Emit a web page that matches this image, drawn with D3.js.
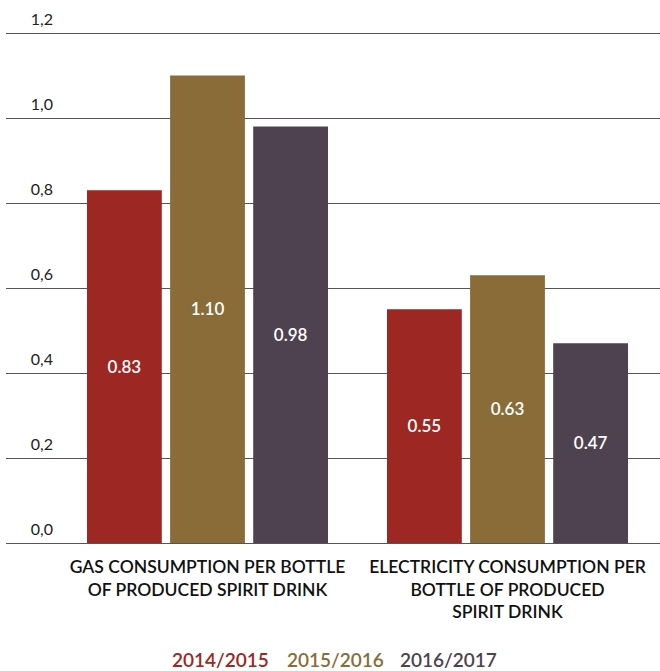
<!DOCTYPE html>
<html><head><meta charset="utf-8">
<script src="https://cdn.jsdelivr.net/npm/d3@7"></script>
<style>body{margin:0;background:#fff}svg{display:block}</style>
</head><body><div id="chart"></div>
<script>
const categories = [["GAS CONSUMPTION PER BOTTLE","OF PRODUCED SPIRIT DRINK"],["ELECTRICITY CONSUMPTION PER","BOTTLE OF PRODUCED","SPIRIT DRINK"]];
const seriesNames = ["2014/2015","2015/2016","2016/2017"];
const values2014 = [0.83, 0.55];
const values2015 = [1.10, 0.63];
const values2016 = [0.98, 0.47];
const labels2014 = ["0.83","0.55"];
const labels2015 = ["1.10","0.63"];
const labels2016 = ["0.98","0.47"];
const yTicks = [0, 0.2, 0.4, 0.6, 0.8, 1.0, 1.2];
const yTickLabels = ["0,0","0,2","0,4","0,6","0,8","1,0","1,2"];
const colors = ["#9C2723","#8A6C38","#4E4250"];

const W = 660, H = 671;
const font = "Lato, 'Open Sans', sans-serif";
const svg = d3.select("#chart").append("svg").attr("width", W).attr("height", H);

const y = d3.scaleLinear().domain([0, 1.2]).range([543, 33]);
const xg = d3.scaleLinear().domain([0,1]).range([87,387]);
const x1 = d3.scaleBand().domain([0,1,2]).range([0, 241]).paddingInner(0.1);

// grid
svg.append("g").selectAll("line").data(yTicks).join("line")
  .attr("x1", 6).attr("x2", W).attr("y1", d => Math.round(y(d)) + 0.5).attr("y2", d => Math.round(y(d)) + 0.5)
  .attr("stroke", "#555").attr("stroke-width", 1.2);
svg.append("g").selectAll("text").data(yTicks).join("text")
  .attr("x", 53).attr("y", d => y(d) - 8).attr("text-anchor", "end")
  .attr("font-family", font).attr("font-size", 16).attr("fill", "#222")
  .text((d,i) => yTickLabels[i]);

const series = [values2014, values2015, values2016];
const labs = [labels2014, labels2015, labels2016];
const data = [];
series.forEach((vals, s) => vals.forEach((v, c) => data.push({s, c, v, l: labs[s][c]})));

const bx = d => xg(d.c) + x1(d.s);
svg.append("g").selectAll("rect").data(data).join("rect")
  .attr("x", bx).attr("width", x1.bandwidth())
  .attr("y", d => y(d.v)).attr("height", d => y(0) - y(d.v))
  .attr("fill", d => colors[d.s]);
svg.append("g").selectAll("text").data(data).join("text")
  .attr("x", d => bx(d) + x1.bandwidth()/2).attr("y", d => (y(d.v) + y(0))/2 + 6)
  .attr("text-anchor", "middle").attr("font-family", font).attr("font-size", 17).attr("font-weight", 600)
  .attr("fill", "#fff").text(d => d.l);

// category labels
categories.forEach((lines, c) => {
  const cx = xg(c) + 241/2;
  const t = svg.append("text").attr("text-anchor", "middle").attr("font-family", font)
    .attr("font-size", 17.5).attr("font-weight", 600).attr("fill", "#111");
  lines.forEach((ln, i) => t.append("tspan").attr("x", cx).attr("y", 573 + i*22.5).text(ln));
});

// legend
const legendX = [172, 287, 400];
svg.append("g").selectAll("text").data(seriesNames).join("text")
  .attr("x", (d,i) => legendX[i]).attr("y", 667)
  .attr("font-family", font).attr("font-size", 19).attr("font-weight", 600)
  .attr("fill", (d,i) => colors[i]).text(d => d);
</script></body></html>
